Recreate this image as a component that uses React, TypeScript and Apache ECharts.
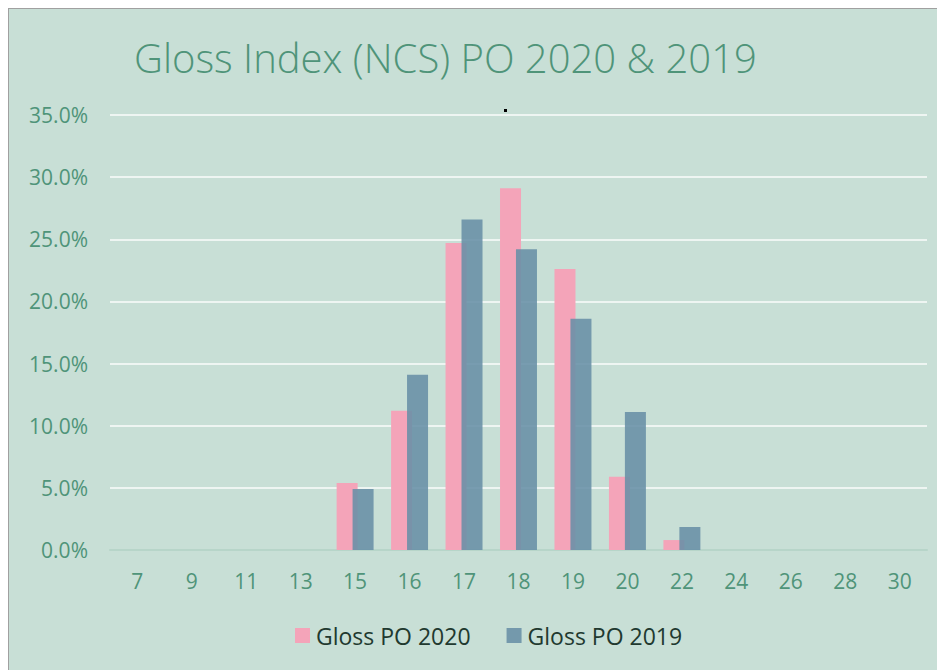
import React, { useEffect, useRef } from "react";
import * as echarts from "echarts";

const categories = ["7", "9", "11", "13", "15", "16", "17", "18", "19", "20", "22", "24", "26", "28", "30"];
const gloss2020 = [0, 0, 0, 0, 0.054, 0.112, 0.247, 0.291, 0.226, 0.059, 0.008, 0, 0, 0, 0];
const gloss2019 = [0, 0, 0, 0, 0.049, 0.141, 0.266, 0.242, 0.186, 0.111, 0.0185, 0, 0, 0, 0];
const titleText = "Gloss Index (NCS) PO 2020 & 2019";
const seriesNames = ["Gloss PO 2020", "Gloss PO 2019"];

export default function App() {
  const ref = useRef<HTMLDivElement>(null);
  useEffect(() => {
    document.body.style.overflow = "hidden";
    const chart = echarts.init(ref.current!, undefined, { renderer: "svg" });
    chart.setOption({
      animation: false,
      backgroundColor: "#c8dfd6",
      title: {
        text: titleText,
        left: 120,
        top: 23,
        textStyle: {
          fontFamily: "Open Sans",
          fontWeight: 300,
          fontSize: 40,
          color: "#4f9479",
        },
      },
      legend: {
        top: 610,
        left: 281,
        itemWidth: 15,
        itemHeight: 15,
        itemGap: 36,
        icon: "rect",
        textStyle: { fontFamily: "Open Sans", fontSize: 23, color: "#21392f", padding: [0, 0, 0, 1] },
        data: seriesNames,
      },
      grid: { left: 101, right: 18, top: 106, bottom: 120 },
      xAxis: {
        type: "category",
        data: categories,
        axisLine: { lineStyle: { color: "#b7d5c9", width: 2 } },
        axisTick: { show: false },
        axisLabel: { color: "#4f9479", fontFamily: "Open Sans", fontSize: 21, margin: 20 },
      },
      yAxis: {
        type: "value",
        min: 0,
        max: 0.35,
        interval: 0.05,
        axisLine: { show: false },
        axisTick: { show: false },
        splitLine: { lineStyle: { color: "#eef5f2", width: 2 } },
        axisLabel: {
          color: "#4f9479",
          fontFamily: "Open Sans",
          fontSize: 21,
          margin: 22,
          formatter: (v: number) => (v * 100).toFixed(1) + "%",
        },
      },
      series: [
        {
          name: seriesNames[0],
          type: "bar",
          data: gloss2020,
          barWidth: 21,
          barGap: "-24%",
          itemStyle: { color: "#f4a4b9" },
        },
        {
          name: seriesNames[1],
          type: "bar",
          data: gloss2019,
          barWidth: 21,
          itemStyle: { color: "#6890a6", opacity: 0.88 },
        },
      ],
      graphic: [
        { type: "rect", left: 495, top: 100, shape: { width: 3, height: 3 }, style: { fill: "#000" } },
      ],
    });
    return () => chart.dispose();
  }, []);
  return (
    <div
      ref={ref}
      style={{
        width: 936,
        height: 661,
        borderTop: "1px solid #a0a0a0",
        borderLeft: "1px solid #a0a0a0",
      }}
    />
  );
}
